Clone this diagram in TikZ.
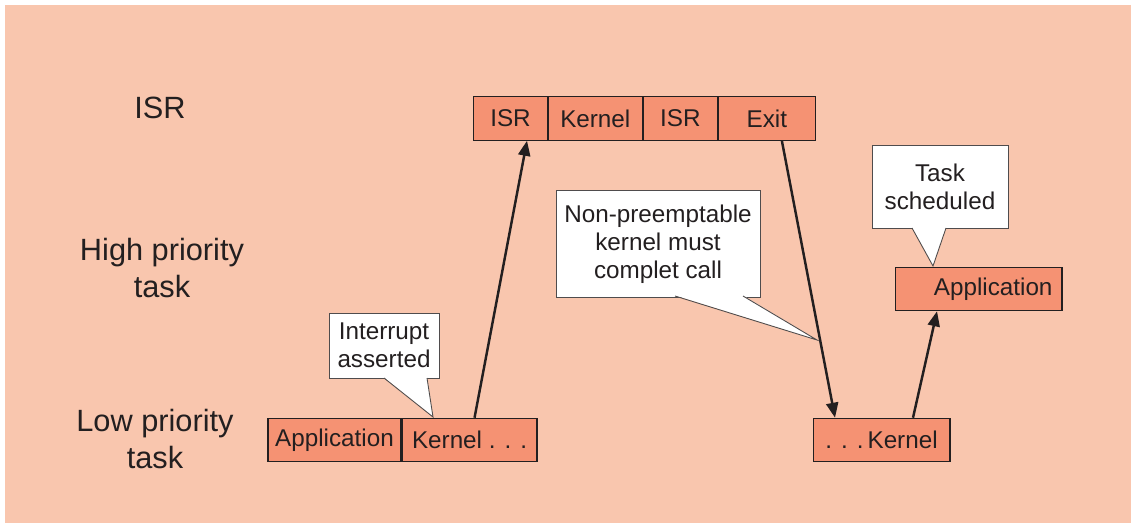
\documentclass[tikz,border=0pt]{standalone}
\usepackage{fontspec}
\setmainfont{Liberation Sans}
\usetikzlibrary{positioning,arrows.meta}
\definecolor{bgpink}{RGB}{249,198,174}
\definecolor{segred}{RGB}{245,146,115}
\definecolor{inkgray}{RGB}{35,31,32}
\begin{document}
\begin{tikzpicture}[x=0.02cm,y=-0.02cm,
  every node/.style={text=inkgray},
  rowlabel/.style={font=\fontsize{17.5}{21.5}\selectfont, align=center},
  seg/.style={draw=inkgray, line width=0.6pt, fill=segred, minimum height=0.87cm,
    inner sep=0pt, font=\fontsize{13.8}{16}\selectfont},
  note/.style={draw=inkgray!80, line width=0.5pt, fill=white, align=center,
    inner sep=0pt, font=\fontsize{13.8}{16}\selectfont},
  flow/.style={line width=1.4pt, inkgray, -{Triangle[length=0.3cm,width=0.24cm]}}]
  \useasboundingbox (0,0) rectangle (1131,524);
  \fill [bgpink] (5,5) rectangle (1131,523);

  % row labels
  \node [rowlabel] (lisr) at (160,108) {ISR};
  \node [rowlabel] (lhigh) at (162,268) {High priority\\task};
  \node [rowlabel] (llow) at (155,439) {Low priority\\task};

  % ISR row
  \node [seg, minimum width=1.48cm] (isrA) at (510.5,118.5) {ISR};
  \node [seg, minimum width=1.87cm, right=0pt of isrA] (kernA) {Kernel};
  \node [seg, minimum width=1.49cm, right=0pt of kernA] (isrB) {ISR};
  \node [seg, minimum width=1.93cm, right=0pt of isrB] (exitA) {Exit};

  % low priority task
  \node [seg, minimum width=2.66cm] (appL) at (334.5,440) {Application};
  \node [seg, minimum width=2.7cm, right=0pt of appL] (kernL) {Kernel . . .};
  \node [seg, minimum width=2.74cm] (kernR) at (881.5,440) {. . .\,Kernel};

  % high priority task
  \node [seg, text width=2.96cm, inner xsep=0.19cm, align=right] (appH) at (978.5,289) {Application};

  % switches
  \draw [flow] ([xshift=0.1cm]kernL.north) -- ([xshift=0.33cm]isrA.south);
  \draw [flow] ([xshift=0.3cm]exitA.south) -- ([xshift=-0.93cm]kernR.north);
  \draw [flow] ([xshift=0.63cm]kernR.north) -- ([xshift=-0.83cm]appH.south);

  % callouts
  \node [note, minimum width=2.2cm, minimum height=1.3cm] (irq) at (384,345.5) {Interrupt\\asserted};
  \coordinate (irqtip) at (433,417);
  \fill [white] (384,377.5) -- (irqtip) -- (427,377.5) -- cycle;
  \draw [inkgray!80, line width=0.5pt] (384,378) -- (irqtip) -- (427,378);

  \node [note, minimum width=4.08cm, minimum height=2.14cm] (nonpre) at (658,244) {Non-preemptable\\kernel must\\complet call};
  \coordinate (nonpretip) at (817,340);
  \fill [white] (675,295.5) -- (nonpretip) -- (743,295.5) -- cycle;
  \draw [inkgray!80, line width=0.5pt] (675,296) -- (nonpretip) -- (743,296);

  \node [note, minimum width=2.72cm, minimum height=1.66cm] (sched) at (940,186.5) {Task\\scheduled};
  \coordinate (schedtip) at (933,266);
  \fill [white] (912,227.5) -- (schedtip) -- (946,227.5) -- cycle;
  \draw [inkgray!80, line width=0.5pt] (912,228) -- (schedtip) -- (946,228);
\end{tikzpicture}
\end{document}
